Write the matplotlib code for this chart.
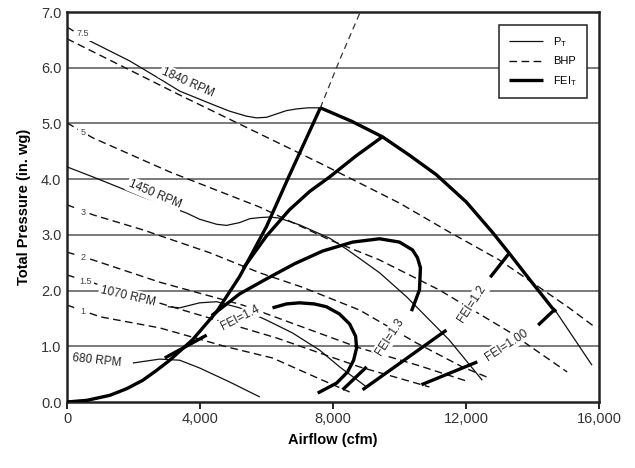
import numpy as np
import matplotlib.pyplot as plt

plt.rcParams['font.family'] = ['Liberation Sans', 'DejaVu Sans']

# fan total pressure curves (cfm, in. wg)
rpm1840_x = [690, 1890, 2790, 3390, 4380, 4890, 5400, 5700, 6000, 6300, 6600, 6900,
             7250, 7620, 8556, 9486, 10297, 11107, 12008, 12789, 13299, 13899,
             14590, 14710, 15790]
rpm1840_y = [6.48, 6.12, 5.80, 5.58, 5.34, 5.22, 5.13, 5.10, 5.11, 5.17, 5.23, 5.26,
             5.28, 5.28, 5.04, 4.76, 4.43, 4.08, 3.59, 3.05, 2.67, 2.21,
             1.69, 1.62, 0.66]
rpm1450_x = [0, 780, 2280, 2940, 3600, 3990, 4500, 4800, 5190, 5500, 5790, 6100,
             6390, 6990, 7900, 8440, 9400, 10210, 11500, 12490]
rpm1450_y = [4.22, 4.04, 3.68, 3.54, 3.39, 3.28, 3.19, 3.17, 3.22, 3.29, 3.31, 3.32,
             3.30, 3.18, 2.94, 2.73, 2.32, 1.89, 1.11, 0.39]
rpm1070_x = [3030, 3390, 3990, 4500, 5190, 6000, 6780, 7600, 8200, 9010]
rpm1070_y = [1.71, 1.69, 1.78, 1.80, 1.69, 1.47, 1.24, 0.93, 0.63, 0.27]
rpm680_x = [1980, 2790, 3390, 3990, 4890, 5800]
rpm680_y = [0.70, 0.77, 0.75, 0.61, 0.36, 0.09]

# constant BHP lines
bhp_labels = ["7.5", "", "5", "3", "2", "1.5", "1"]
bhp_x = [
    [0, 690],
    [0, 3390, 7600, 10000, 11500, 13000, 14200, 15100, 15910],
    [0, 780, 3090, 5790, 7900, 9400, 11200, 13300, 15040],
    [0, 780, 2280, 4290, 5790, 7080, 8800, 10510, 11890, 12700],
    [0, 780, 2790, 5280, 8800, 10600, 12100],
    [0, 3090, 6300, 8800, 10900],
    [0, 990, 2790, 4800, 6180, 7690, 8500],
]
bhp_y = [
    [6.73, 6.48],
    [6.52, 5.51, 4.29, 3.57, 3.05, 2.55, 2.06, 1.69, 1.33],
    [5.01, 4.74, 4.13, 3.50, 2.91, 2.55, 2.01, 1.26, 0.54],
    [3.54, 3.36, 3.09, 2.68, 2.32, 2.06, 1.65, 1.06, 0.63, 0.43],
    [2.69, 2.55, 2.15, 1.74, 0.97, 0.65, 0.36],
    [2.28, 1.72, 1.15, 0.63, 0.27],
    [1.74, 1.53, 1.33, 0.99, 0.79, 0.39, 0.18],
]
bhp_label_x = [480, None, 480, 480, 480, 560, 480]
bhp_label_y = [6.61, None, 4.83, 3.41, 2.59, 2.17, 1.62]

# system curve continuing above the FEI region
sys_x = [7620, 8200, 8820]
sys_y = [5.28, 6.14, 7.0]

# FEI boundaries
fei_outer_range = (7620, 14710)
fei_lines = [
    ([0, 600, 1290, 1800, 2280, 2700, 3090, 3780, 4500, 5190, 6000, 6690, 7620],
     [0, 0.03, 0.12, 0.24, 0.39, 0.57, 0.75, 1.12, 1.62, 2.25, 3.15, 4.07, 5.28]),
    ([5300, 6000, 6690, 7300, 7900, 8700, 9486], [2.40, 2.98, 3.45, 3.78, 4.04, 4.42, 4.76]),
    ([4350, 5190, 6000, 6840, 7690, 8590, 9400, 10000, 10390, 10540, 10630, 10600, 10360],
     [1.55, 1.94, 2.21, 2.48, 2.71, 2.87, 2.93, 2.87, 2.73, 2.59, 2.41, 2.01, 1.63]),
    ([6180, 6600, 6990, 7440, 7800, 8195, 8500, 8680, 8710, 8620, 8440, 8110, 7540],
     [1.69, 1.76, 1.78, 1.76, 1.71, 1.58, 1.40, 1.18, 0.97, 0.75, 0.54, 0.34, 0.16]),
    ([2940, 4200], [0.79, 1.20]),
    ([8290, 9010], [0.22, 0.63]),
    ([8890, 11410], [0.22, 1.29]),
    ([10660, 12340], [0.31, 0.72]),
    ([13299, 12730], [2.67, 2.24]),
    ([14650, 14170], [1.65, 1.38]),
]

rpm_labels = ["1840 RPM", "1450 RPM", "1070 RPM", "680 RPM"]
rpm_label_x = [3630, 2640, 1830, 900]
rpm_label_y = [5.74, 3.73, 1.90, 0.74]
rpm_label_rot = [-24, -23, -13, -6]

fei_labels = ["FEI=1.4", "FEI=1.3", "FEI=1.2", "FEI=1.00"]
fei_label_x = [5220, 9700, 12190, 13210]
fei_label_y = [1.51, 1.17, 1.76, 1.02]
fei_label_rot = [27, 57, 57, 33]

fig = plt.figure(figsize=(6.35, 4.68), dpi=100)
ax = fig.add_axes([67 / 635, 1 - 402 / 468, 532 / 635, 390 / 468])

thin = dict(color="#111111", lw=0.9, solid_capstyle="butt", solid_joinstyle="round")
dash = dict(color="#111111", lw=1.0, linestyle=(0, (5.5, 3.2)))
thick = dict(color="black", lw=2.4, solid_capstyle="butt", solid_joinstyle="round")

for yv in range(1, 7):
    ax.axhline(yv, color="#555555", lw=1.1, zorder=1)

for xs, ys in zip(bhp_x, bhp_y):
    ax.plot(xs, ys, zorder=2, **dash)
ax.plot(sys_x, sys_y, zorder=2, color="#333333", lw=0.9, linestyle=(0, (5, 3.5)))

for xs, ys in [(rpm1840_x, rpm1840_y), (rpm1450_x, rpm1450_y),
               (rpm1070_x, rpm1070_y), (rpm680_x, rpm680_y)]:
    ax.plot(xs, ys, zorder=3, **thin)

ox = np.array(rpm1840_x)
oy = np.array(rpm1840_y)
m = (ox >= fei_outer_range[0]) & (ox <= fei_outer_range[1])
ax.plot(ox[m], oy[m], zorder=4, **thick)
for xs, ys in fei_lines:
    ax.plot(xs, ys, zorder=4, **thick)

box = dict(facecolor="white", edgecolor="none", pad=1.2)
for t, x, y, r in zip(rpm_labels, rpm_label_x, rpm_label_y, rpm_label_rot):
    ax.text(x, y, t, rotation=r, rotation_mode="anchor", ha="center", va="center",
            fontsize=8.5, color="#222222", bbox=box, zorder=5)
for t, x, y, r in zip(fei_labels, fei_label_x, fei_label_y, fei_label_rot):
    ax.text(x, y, t, rotation=r, rotation_mode="anchor", ha="center", va="center",
            fontsize=8.5, color="#222222", bbox=box, zorder=5)
for t, x, y in zip(bhp_labels, bhp_label_x, bhp_label_y):
    if t:
        ax.text(x, y, t, ha="center", va="center", fontsize=6.5, color="#444444",
                bbox=dict(facecolor="white", edgecolor="none", pad=1.8), zorder=5)

ax.plot([], [], label=r"P$_\mathregular{T}$", **thin)
ax.plot([], [], label="BHP", **dash)
ax.plot([], [], label=r"FEI$_\mathregular{T}$", **thick)
leg = ax.legend(loc="upper right", bbox_to_anchor=(0.977, 0.967), borderaxespad=0,
                fancybox=False, framealpha=1, edgecolor="#222222", fontsize=8,
                handlelength=3.0, handletextpad=0.9, borderpad=0.9, labelspacing=0.7)
leg.get_frame().set_linewidth(1.1)
leg.set_zorder(6)

ax.set_xlim(0, 16000)
ax.set_ylim(0, 7)
ax.set_xticks([0, 4000, 8000, 12000, 16000])
ax.set_xticklabels(["0", "4,000", "8,000", "12,000", "16,000"])
ax.set_yticks(np.arange(0, 7.5, 1.0))
ax.set_yticklabels([f"{v:.1f}" for v in np.arange(0, 7.5, 1.0)])
ax.tick_params(axis="x", length=5, width=1.2, direction="out", labelsize=10.5,
               labelcolor="#333333", pad=2)
ax.tick_params(axis="y", length=0, labelsize=10.5, labelcolor="#333333", pad=4)
for s in ax.spines.values():
    s.set_linewidth(1.8)
    s.set_color("#222222")

ax.set_xlabel("Airflow (cfm)", fontsize=10.5, fontweight="bold", labelpad=5)
ax.set_ylabel("Total Pressure (in. wg)", fontsize=10.5, fontweight="bold", labelpad=7)

fig.savefig("out.png", dpi=100)
